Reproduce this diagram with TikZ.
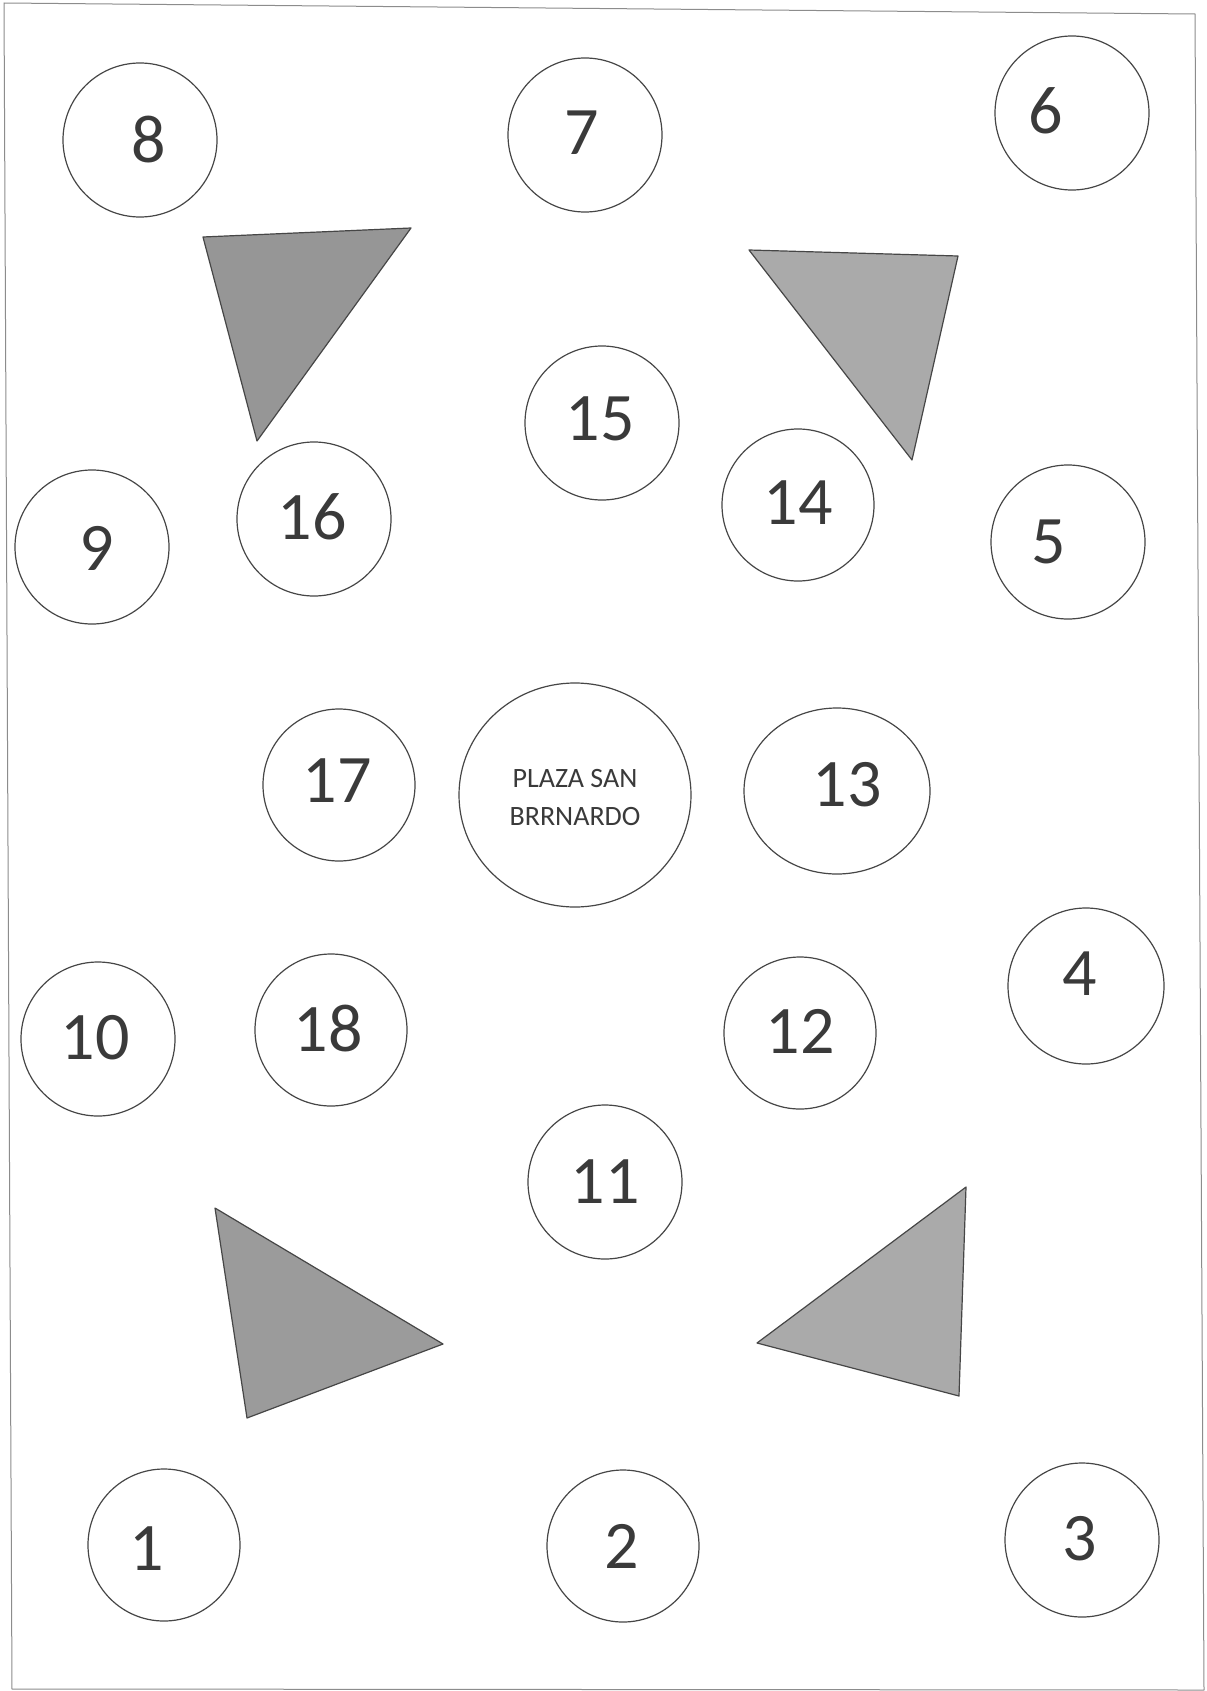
\documentclass[tikz,border=0pt]{standalone}
\usepackage{fontspec}
\setmainfont{Carlito}
\usetikzlibrary{calc}
\definecolor{plazaink}{RGB}{58,58,58}
\definecolor{plazaline}{RGB}{70,70,70}
\definecolor{plazaframe}{RGB}{140,140,140}
\definecolor{blockdark}{RGB}{150,150,150}
\definecolor{blocklight}{RGB}{170,170,170}

\begin{document}
\begin{tikzpicture}[x=0.5pt,y=-0.5pt,line cap=round,line join=round,
  ring/.style={plazaline,line width=0.6pt},
  block/.style={draw=plazaline,line width=0.6pt},
  num/.style={plazaink,font=\fontsize{34}{40}\selectfont,inner sep=0pt}]
 \useasboundingbox (0,0) rectangle (1206,1691);
 \fill[white] (0,0) rectangle (1206,1691);
 \draw[plazaframe,line width=0.5pt] (4,3) -- (1195,14) -- (1204,1690) -- (12,1689) -- cycle;
 % manzanas
 \filldraw[block,fill=blockdark] (203,237) -- (411,228) -- (257,441) -- cycle;
 \filldraw[block,fill=blocklight] (749,250) -- (958,256) -- (912,460) -- cycle;
 \filldraw[block,fill=blockdark!95!white] (215,1208) -- (443,1344) -- (247,1418) -- cycle;
 \filldraw[block,fill=blocklight] (966,1187) -- (757,1343) -- (959,1396) -- cycle;
 % plaza
 \draw[ring] (575,795) ellipse[x radius=116,y radius=112];
 \node[plazaink,font=\fontsize{14}{19}\selectfont,align=center] (plaza) at (575,798)
  {PLAZA SAN\\BRRNARDO};
 % puntos
 \draw[ring] (140,140) circle[radius=77];
 \node[num] (n8) at (149,140) {8};
 \draw[ring] (585,135) circle[radius=77];
 \node[num] (n7) at (582,133) {7};
 \draw[ring] (1072,113) circle[radius=77];
 \node[num] (n6) at (1046,111) {6};
 \draw[ring] (602,423) circle[radius=77];
 \node[num] (n15) at (600,419) {15};
 \draw[ring] (798,505) circle[radius=76];
 \node[num] (n14) at (798,503) {14};
 \draw[ring] (314,519) circle[radius=77];
 \node[num] (n16) at (312,517) {16};
 \draw[ring] (92,547) circle[radius=77];
 \node[num] (n9) at (97,548) {9};
 \draw[ring] (1068,542) circle[radius=77];
 \node[num] (n5) at (1049,542) {5};
 \draw[ring] (339,785) circle[radius=76];
 \node[num] (n17) at (337,781) {17};
 \draw[ring] (837,791) ellipse[x radius=93,y radius=83];
 \node[num] (n13) at (847,785) {13};
 \draw[ring] (1086,986) circle[radius=78];
 \node[num] (n4) at (1080,974) {4};
 \draw[ring] (98,1039) circle[radius=77];
 \node[num] (n10) at (95,1038) {10};
 \draw[ring] (331,1030) circle[radius=76];
 \node[num] (n18) at (328,1029) {18};
 \draw[ring] (800,1033) circle[radius=76];
 \node[num] (n12) at (800,1031) {12};
 \draw[ring] (605,1182) circle[radius=77];
 \node[num] (n11) at (605,1182) {11};
 \draw[ring] (164,1545) circle[radius=76];
 \node[num] (n1) at (147,1549) {1};
 \draw[ring] (623,1546) circle[radius=76];
 \node[num] (n2) at (622,1546) {2};
 \draw[ring] (1082,1540) circle[radius=77];
 \node[num] (n3) at (1080,1539) {3};
\end{tikzpicture}
\end{document}
